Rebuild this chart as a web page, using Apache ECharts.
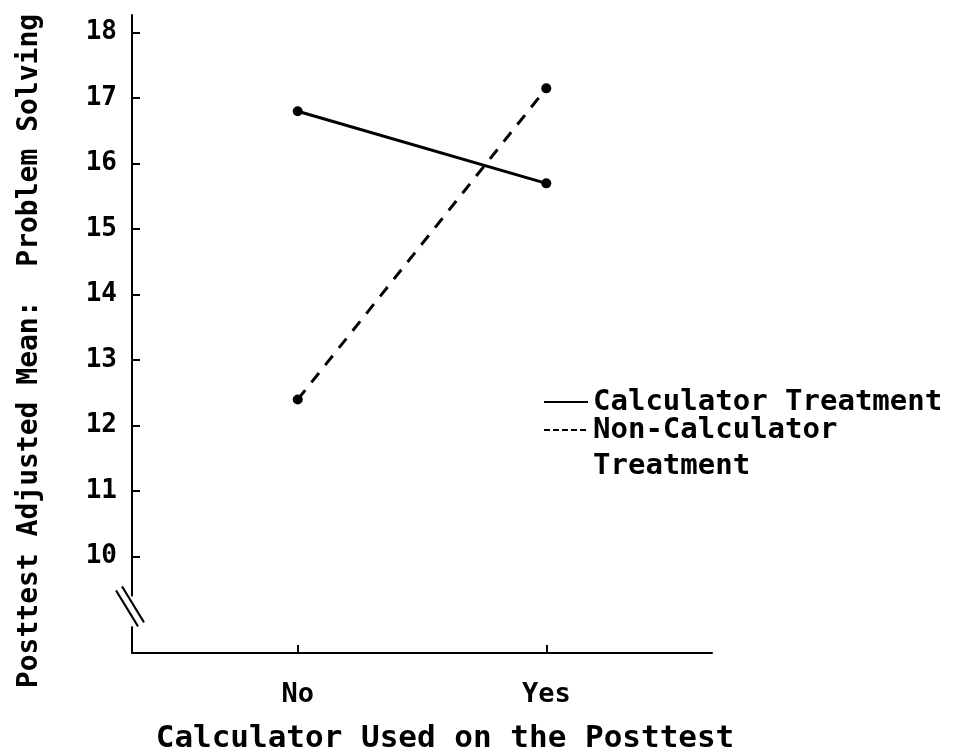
<!DOCTYPE html>
<html>
<head>
<meta charset="utf-8">
<script src="https://cdn.jsdelivr.net/npm/echarts@6/dist/echarts.min.js"></script>
<style>
  html, body { margin: 0; padding: 0; background: #fff; }
  #main { width: 954px; height: 755px; }
</style>
</head>
<body>
<div id="main"></div>
<script>
  // calculator used on the posttest
  const categories = ['No', 'Yes'];
  const calcTreatment = [16.8, 15.7];
  const nonCalcTreatment = [12.4, 17.15];
  const yTicks = [10, 11, 12, 13, 14, 15, 16, 17, 18];
  const seriesNames = ['Calculator Treatment', 'Non-Calculator\nTreatment'];

  const font = 'DejaVu Sans Mono';
  const chart = echarts.init(document.getElementById('main'));

  function toPoints(vals) {
    return vals.map((v, i) => [i, v]);
  }

  let option = {
    backgroundColor: '#fff',
    animation: false,
    textStyle: { fontFamily: font, color: '#000' },
    grid: { left: 132, right: 242, top: 15, bottom: 102, containLabel: false, outerBoundsMode: 'none' },
    legend: {
      orient: 'vertical',
      left: 538,
      top: 371,
      itemWidth: 44,
      itemHeight: 14,
      itemGap: -44,
      itemStyle: { opacity: 0 },
      // blank first line keeps the dash sample level with "Non-Calculator"
      formatter: name => (name === seriesNames[1] ? ' \n' + name : name),
      textStyle: { fontFamily: font, fontSize: 29, fontWeight: 'bold', color: '#000', lineHeight: 36 },
      data: [
        { name: seriesNames[0], lineStyle: { width: 2, type: 'solid' } },
        { name: seriesNames[1], lineStyle: { width: 2, type: [6, 3] } }
      ]
    },
    xAxis: {
      type: 'value',
      min: -2 / 3,
      max: 5 / 3,
      name: 'Calculator Used on the Posttest',
      nameLocation: 'middle',
      nameGap: 70,
      nameTextStyle: { fontFamily: font, fontSize: 31, fontWeight: 'bold', color: '#000', padding: [0, 0, 0, 46] },
      splitLine: { show: false },
      axisLine: { onZero: false, lineStyle: { color: '#000', width: 2 } },
      axisTick: { customValues: [0, 1], inside: true, length: 8, lineStyle: { color: '#000', width: 2 } },
      axisLabel: {
        customValues: [0, 1],
        margin: 28,
        fontFamily: font,
        fontSize: 27,
        fontWeight: 'bold',
        color: '#000',
        formatter: v => categories[Math.round(v)]
      }
    },
    yAxis: {
      type: 'value',
      min: 8.53,
      max: 18.27,
      name: 'Posttest Adjusted Mean:  Problem Solving',
      nameLocation: 'middle',
      nameGap: 88,
      nameTextStyle: { fontFamily: font, fontSize: 28, fontWeight: 'bold', color: '#000', padding: [0, 34, 0, 0] },
      splitLine: { show: false },
      axisLine: { onZero: false, lineStyle: { color: '#000', width: 2 } },
      axisTick: { customValues: yTicks, inside: true, length: 8, lineStyle: { color: '#000', width: 2 } },
      axisLabel: { customValues: yTicks, margin: 15, fontFamily: font, fontSize: 26, fontWeight: 'bold', color: '#000' }
    },
    series: [
      {
        name: seriesNames[0],
        type: 'line',
        data: toPoints(calcTreatment),
        symbol: 'circle',
        symbolSize: 10,
        itemStyle: { color: '#000' },
        lineStyle: { color: '#000', width: 3, type: 'solid' }
      },
      {
        name: seriesNames[1],
        type: 'line',
        data: toPoints(nonCalcTreatment),
        symbol: 'circle',
        symbolSize: 10,
        itemStyle: { color: '#000' },
        lineStyle: { color: '#000', width: 3, type: [12, 10] }
      }
    ]
  };

  chart.setOption(option);

  // axis break marks on the y axis, placed through the axis scale
  const bx = chart.convertToPixel({ xAxisIndex: 0 }, -2 / 3);
  const by = chart.convertToPixel({ yAxisIndex: 0 }, 9.15);
  chart.setOption({
    graphic: [
      { type: 'rect', z: 100, shape: { x: bx - 4, y: by - 16, width: 8, height: 30 }, style: { fill: '#fff' } },
      { type: 'line', z: 101, shape: { x1: bx - 16, y1: by - 22, x2: bx + 6, y2: by + 14 }, style: { stroke: '#000', lineWidth: 2 } },
      { type: 'line', z: 101, shape: { x1: bx - 10, y1: by - 26, x2: bx + 12, y2: by + 10 }, style: { stroke: '#000', lineWidth: 2 } }
    ]
  });
</script>
</body>
</html>
